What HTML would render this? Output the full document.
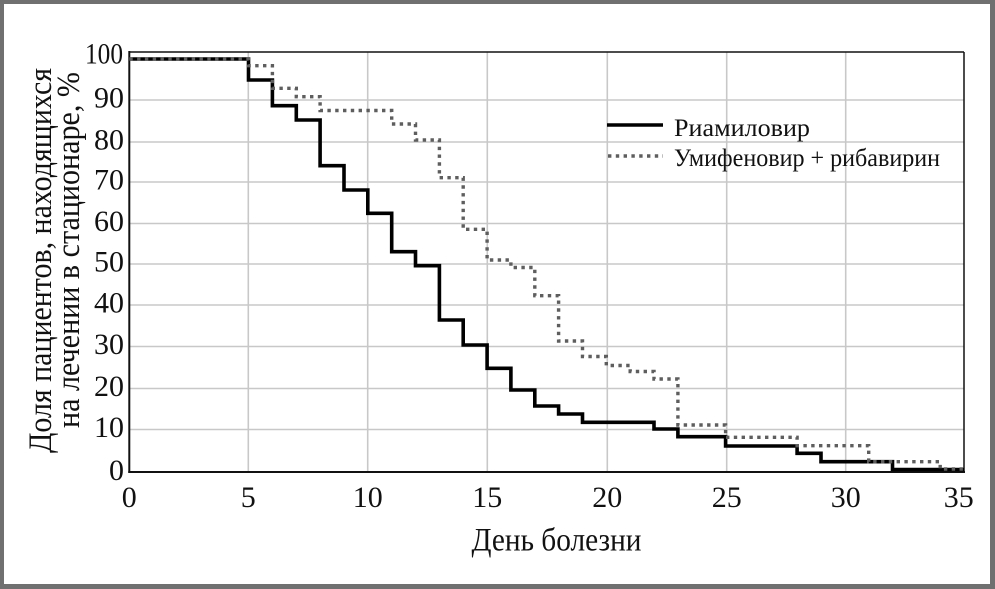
<!DOCTYPE html>
<html><head><meta charset="utf-8"><style>
html,body{margin:0;padding:0;background:#fff;}
svg{display:block;}
text{font-family:"Liberation Serif","DejaVu Serif",serif;fill:#111;}
</style></head><body>
<svg width="995" height="589" viewBox="0 0 995 589" xmlns="http://www.w3.org/2000/svg">
<rect x="0" y="0" width="995" height="589" fill="#707070"/>
<rect x="4" y="4" width="986" height="580" fill="#fff"/>
<g stroke="#c8c8c8" stroke-width="1.6" fill="none">
<line x1="129.3" y1="429.5" x2="964" y2="429.5"/>
<line x1="129.3" y1="388.5" x2="964" y2="388.5"/>
<line x1="129.3" y1="346.5" x2="964" y2="346.5"/>
<line x1="129.3" y1="305" x2="964" y2="305"/>
<line x1="129.3" y1="264" x2="964" y2="264"/>
<line x1="129.3" y1="223.5" x2="964" y2="223.5"/>
<line x1="129.3" y1="182" x2="964" y2="182"/>
<line x1="129.3" y1="142" x2="964" y2="142"/>
<line x1="129.3" y1="100" x2="964" y2="100"/>
<line x1="248.3" y1="52" x2="248.3" y2="472"/>
<line x1="367.7" y1="52" x2="367.7" y2="472"/>
<line x1="487.3" y1="52" x2="487.3" y2="472"/>
<line x1="607.3" y1="52" x2="607.3" y2="472"/>
<line x1="726.7" y1="52" x2="726.7" y2="472"/>
<line x1="845.7" y1="52" x2="845.7" y2="472"/>
</g>
<g stroke="#111" fill="none">
<line x1="129.3" y1="52" x2="964" y2="52" stroke-width="1.5"/>
<line x1="964" y1="52" x2="964" y2="472" stroke-width="1.5"/>
<line x1="129.3" y1="51" x2="129.3" y2="473" stroke-width="2"/>
<line x1="128.3" y1="472" x2="965" y2="472" stroke-width="2"/>
</g>
<path d="M129.3,59 H248.5 V80 H272.4 V105.7 H296.3 V120 H320.1 V165.7 H344 V190 H367.8 V213.3 H391.7 V251.7 H415.5 V265.7 H439.4 V320 H463.2 V345 H487.1 V368.3 H510.9 V390 H534.8 V406 H558.6 V414 H582.5 V422.3 H654 V429 H677.9 V436.7 H725.6 V446 H797.1 V453.3 H821 V461.7 H892.5 V469.5 H964" fill="none" stroke="#000" stroke-width="3.6" stroke-linejoin="miter"/>
<path d="M129.3,59 H248.5 V65.7 H272.4 V88.3 H296.3 V96.7 H320.1 V110.5 H391.7 V124 H415.5 V140 H439.4 V177.7 H463.2 V229.3 H487.1 V260 H510.9 V267.5 H534.8 V295.7 H558.6 V341 H582.5 V356.5 H606.3 V365.5 H630.2 V371.5 H654 V379 H677.9 V425 H725.6 V437.3 H797.1 V445.7 H868.7 V461.7 H940.2 V469 H964" fill="none" stroke="#5e5e5e" stroke-width="3.4" stroke-dasharray="3.4 4.4"/>
<line x1="607" y1="125" x2="663" y2="125" stroke="#000" stroke-width="3.6"/>
<line x1="608" y1="156" x2="663" y2="156" stroke="#5e5e5e" stroke-width="3.4" stroke-dasharray="3.4 4.4"/>
<text x="674" y="136" font-size="25" textLength="136" lengthAdjust="spacingAndGlyphs">Риамиловир</text>
<text x="674" y="166" font-size="25" textLength="266" lengthAdjust="spacingAndGlyphs">Умифеновир + рибавирин</text>
<g font-size="30" text-anchor="end">
<text x="123" y="63.5" textLength="38" lengthAdjust="spacingAndGlyphs">100</text>
<text x="124" y="107.5">90</text>
<text x="124" y="149.5">80</text>
<text x="124" y="189.5">70</text>
<text x="124" y="231">60</text>
<text x="124" y="271.5">50</text>
<text x="124" y="312.5">40</text>
<text x="124" y="354">30</text>
<text x="124" y="396">20</text>
<text x="124" y="437">10</text>
<text x="124" y="480">0</text>
</g>
<g font-size="30" text-anchor="middle">
<text x="129.3" y="507">0</text>
<text x="248.3" y="507">5</text>
<text x="367.7" y="507">10</text>
<text x="487.3" y="507">15</text>
<text x="607.3" y="507">20</text>
<text x="726.7" y="507">25</text>
<text x="845.7" y="507">30</text>
<text x="958.7" y="507">35</text>
</g>
<text x="471.5" y="550.5" font-size="33" textLength="170" lengthAdjust="spacingAndGlyphs">День болезни</text>
<text transform="translate(51,453) rotate(-90)" x="0" y="0" font-size="33" textLength="385" lengthAdjust="spacingAndGlyphs">Доля пациентов, находящихся</text>
<text transform="translate(79,428) rotate(-90)" x="0" y="0" font-size="33" textLength="356" lengthAdjust="spacingAndGlyphs">на лечении в стационаре, %</text>
</svg>
</body></html>
